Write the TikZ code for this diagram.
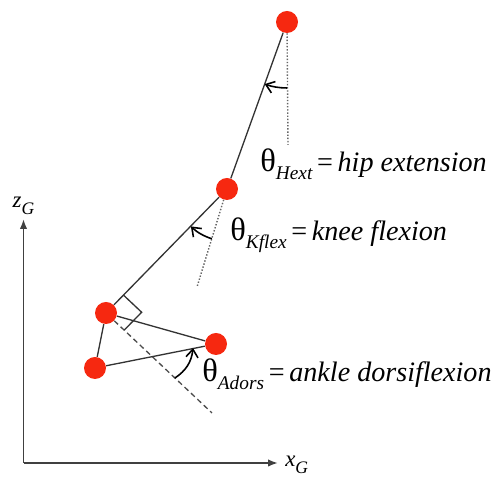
\documentclass[tikz,border=0pt]{standalone}
\usepackage{fontspec}
\setmainfont{Liberation Serif}
\usepackage{tikz}
\usetikzlibrary{arrows.meta,calc}

\definecolor{jointred}{RGB}{246,40,16}
\newcommand{\thsym}{{\fontsize{18.5}{20}\selectfont θ}}
\newcommand{\lowsub}[1]{\raisebox{-4pt}{\fontsize{11}{12}\selectfont\itshape #1}}

\begin{document}
\begin{tikzpicture}[>={Latex[length=2mm,width=1.5mm]},
  joint/.style={circle,fill=jointred,inner sep=0pt,minimum size=0.44cm},
  seg/.style={line width=0.75pt,black!80},
  refline/.style={line width=0.8pt,black!60,densely dotted},
  rot/.style={line width=0.9pt,-{Straight Barb[length=1.6mm,width=2.4mm]}},
  angname/.style={anchor=base west,inner sep=0pt,font=\fontsize{16}{18}\selectfont}]
  \useasboundingbox (0,0) rectangle (9.84,9.54);

  % axes
  \coordinate (O) at (0.47,0.28);
  \coordinate (xend) at (5.56,0.28);
  \coordinate (zend) at (0.47,5.16);
  \draw[->,line width=1pt,black!75] (O) -- (xend);
  \draw[->,line width=1pt,black!75] (O) -- (zend);
  \node[anchor=base west,inner sep=0pt,font=\fontsize{13}{14}\selectfont] (xlbl) at (5.70,0.21) {\textit{x}\lowsub{\fontsize{10}{11}\selectfont G}};
  \node[above=2pt,inner sep=0pt,font=\fontsize{13}{14}\selectfont] (zlbl) at (zend) {\textit{z}\lowsub{\fontsize{10}{11}\selectfont G}};

  % joints
  \node[joint] (hip)   at (5.74,9.10) {};
  \node[joint] (knee)  at (4.54,5.76) {};
  \node[joint] (ankle) at (2.12,3.28) {};
  \node[joint] (heel)  at (1.90,2.18) {};
  \node[joint] (toe)   at (4.32,2.66) {};

  \draw[seg] (hip) -- (knee) -- (ankle) -- (heel) -- (toe) -- (ankle);

  % reference lines
  \coordinate (hipref)   at (5.76,6.64);
  \coordinate (kneeref)  at (3.94,3.80);
  \coordinate (ankleref) at (4.24,1.28);
  \draw[refline] (hip) -- (hipref);
  \draw[refline] (knee) -- (kneeref);
  \draw[seg,black!70,dash pattern=on 3pt off 2pt] (ankle) -- (ankleref);

  % right angle at the ankle
  \coordinate (sq1) at ($(ankle)!0.5cm!(knee)$);
  \coordinate (sq2) at ($(ankle)!0.5cm!(ankleref)$);
  \draw[seg] (sq1) -- ($(sq1)+(sq2)-(ankle)$) -- (sq2);

  % joint angles
  \draw[rot] ($(hip)+(-90:1.32)$) arc[start angle=-90,end angle=-109.8,radius=1.32];
  \draw[rot] ($(knee)+(253:1.04)$) arc[start angle=253,end angle=226,radius=1.04];
  \coordinate (adA) at (3.50,1.98);
  \coordinate (adB) at (3.86,2.58);
  \draw[rot] (adA) to[bend right=25] (adB);

  \node[angname] (hext)  at (5.20,6.10) {\thsym\lowsub{Hext}\,=\,\textit{hip extension}};
  \node[angname] (kflex) at (4.60,4.72) {\thsym\lowsub{Kflex}\,=\,\textit{knee flexion}};
  \node[angname] (adors) at (4.04,1.90) {\thsym\lowsub{Adors}\,=\,\textit{ankle dorsiflexion}};
\end{tikzpicture}
\end{document}
